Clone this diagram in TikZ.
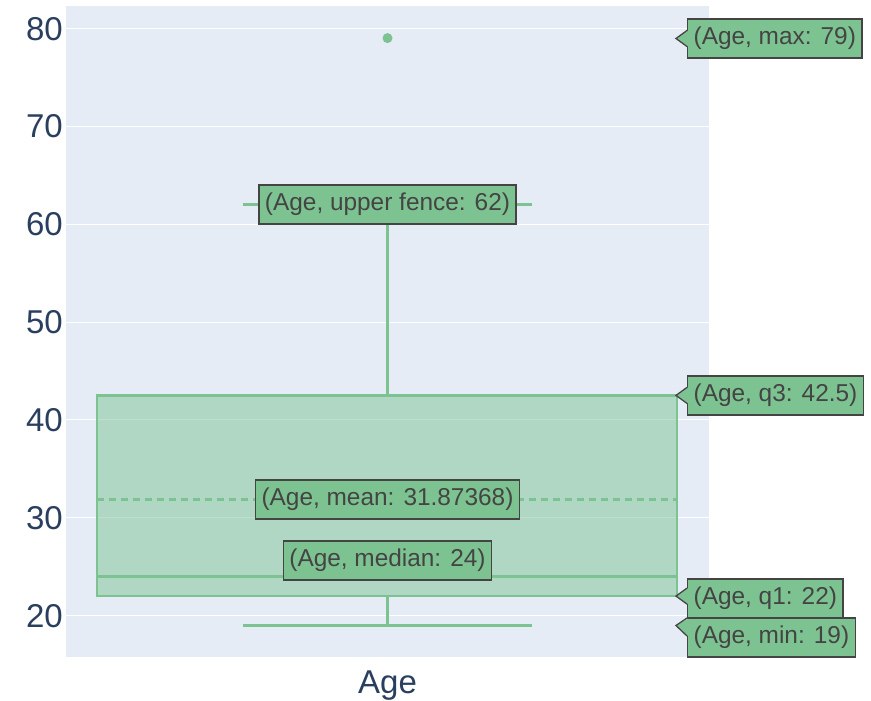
\documentclass[tikz,border=0pt]{standalone}
\usepackage{fontspec}
\setmainfont{Liberation Sans}
\definecolor{bg}{HTML}{E5ECF6}
\definecolor{trace}{HTML}{7DC391}
\definecolor{tickc}{HTML}{2A3F5F}
\definecolor{lblborder}{HTML}{444444}
\begin{document}
\begin{tikzpicture}[x=1pt,y=-1pt,
 trline/.style={draw=trace,line width=2.6pt},
 hlabel/.style={draw=lblborder,line width=1.3pt,fill=trace,text=lblborder,font=\fontsize{24.4}{28}\selectfont,inner xsep=6pt,inner ysep=0pt,minimum height=39pt},
 ticklbl/.style={anchor=base east,text=tickc,font=\fontsize{33}{38}\selectfont,inner sep=0pt},
 ptrfill/.style={fill=trace},
 ptredge/.style={draw=lblborder,line width=1.3pt,line join=miter}]
\useasboundingbox (0,0) rectangle (871,701);
% plot background and grid
\fill[bg] (66,6) rectangle (709,657);
\foreach \v in {20,30,...,80} {
  \draw[white,line width=1pt] (66,{28.3+(80-\v)*9.79}) -- (709,{28.3+(80-\v)*9.79});
  \node[ticklbl] (t\v) at (63,{28.3+(80-\v)*9.79+11.8}) {\v};
}
% key coordinates
\coordinate (boxNW) at (97,395.4);
\coordinate (boxSE) at (677,596.1);
\coordinate (q3c) at (387.5,395.4);
\coordinate (q1c) at (387.5,596.1);
\coordinate (ufc) at (387.5,204.5);
\coordinate (ufl) at (243,204.5);
\coordinate (ufr) at (532,204.5);
\coordinate (minc) at (387.5,625.5);
\coordinate (minl) at (243,625.5);
\coordinate (minr) at (532,625.5);
\coordinate (meanl) at (97,499.5);
\coordinate (meanr) at (677,499.5);
\coordinate (medl) at (97,576.5);
\coordinate (medr) at (677,576.5);
% box
\fill[trace,fill opacity=0.5] (boxNW) rectangle (boxSE);
\draw[trline] (boxNW) rectangle (boxSE);
\draw[trline] (medl) -- (medr);
\draw[trline,dash pattern=on 7pt off 5pt] (meanl) -- (meanr);
% whiskers
\draw[trline] (q3c) -- (ufc);
\draw[trline] (ufl) -- (ufr);
\draw[trline] (q1c) -- (minc);
\draw[trline] (minl) -- (minr);
% outlier
\fill[trace] (387.5,38.1) circle (5);
% centered labels
\node[hlabel] (lbluf) at (ufc) {(Age, upper fence: 62)};
\node[hlabel] (lblmean) at (387.5,499.5) {(Age, mean: 31.87368)};
\node[hlabel] (lblmed) at (387.5,560.5) {(Age, median: 24)};
% right labels with pointers
\node[hlabel,anchor=west] (lblmax) at (687,38.5) {(Age, max: 79)};
\fill[ptrfill] (688,30.5) -- (676,38.5) -- (688,46.5) -- cycle;
\draw[ptredge] (687,30.5) -- (676,38.5) -- (687,46.5);
\node[hlabel,anchor=west] (lblq3) at (687,395.5) {(Age, q3: 42.5)};
\fill[ptrfill] (688,387.4) -- (676,395.4) -- (688,403.4) -- cycle;
\draw[ptredge] (687,387.4) -- (676,395.4) -- (687,403.4);
\node[hlabel,anchor=west] (lblq1) at (687,598.5) {(Age, q1: 22)};
\fill[ptrfill] (688,588.1) -- (676,596.1) -- (688,604.1) -- cycle;
\draw[ptredge] (687,588.1) -- (676,596.1) -- (687,604.1);
\node[hlabel,anchor=west] (lblmin) at (687,637.5) {(Age, min: 19)};
\fill[ptrfill] (688,618.7) -- (676,625.5) -- (688,636) -- cycle;
\draw[ptredge] (687,618) -- (676,625.5) -- (687,636);
% axis title
\node[anchor=base,text=tickc,font=\fontsize{33}{38}\selectfont,inner sep=0pt] (xtitle) at (387.5,693) {Age};
\end{tikzpicture}
\end{document}
